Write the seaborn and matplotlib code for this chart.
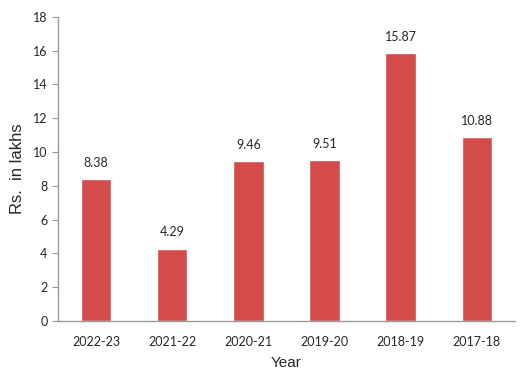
import pandas as pd
import matplotlib
matplotlib.use("Agg")
import matplotlib.pyplot as plt
import seaborn as sns

# ---------- DATA ----------
years = ["2022-23", "2021-22", "2020-21", "2019-20", "2018-19", "2017-18"]
values = [8.38, 4.29, 9.46, 9.51, 15.87, 10.88]
y_ticks = [0, 2, 4, 6, 8, 10, 12, 14, 16, 18]

df = pd.DataFrame({"Year": years, "Value": values})

sns.set_style("white")
plt.rcParams["font.family"] = ["Lato", "DejaVu Sans"]

fig = plt.figure(figsize=(5.28, 3.92), dpi=100)
ax = fig.add_axes([0.110, 0.181, 0.865, 0.776])

sns.barplot(data=df, x="Year", y="Value", color="#d44b4b",
            saturation=1, width=0.4, ax=ax)

for i, v in enumerate(values):
    ax.text(i, v + 0.6, f"{v:.2f}", ha="center", va="bottom", fontsize=9)

ax.set_ylim(0, 18)
ax.set_yticks(y_ticks)
ax.set_xlim(-0.5, len(years) - 0.5)
ax.tick_params(axis="y", left=True, length=4, color="#999999", labelsize=9)
ax.tick_params(axis="x", bottom=False, labelsize=9, pad=7)

for side in ["top", "right"]:
    ax.spines[side].set_visible(False)
for side in ["left", "bottom"]:
    ax.spines[side].set_color("#999999")
    ax.spines[side].set_linewidth(1)

ax.set_xlabel("Year", fontsize=11, family="Liberation Sans", labelpad=6)
ax.set_ylabel("Rs.  in lakhs", fontsize=12, family="Liberation Sans", labelpad=6)

fig.savefig("out.png", dpi=100)
